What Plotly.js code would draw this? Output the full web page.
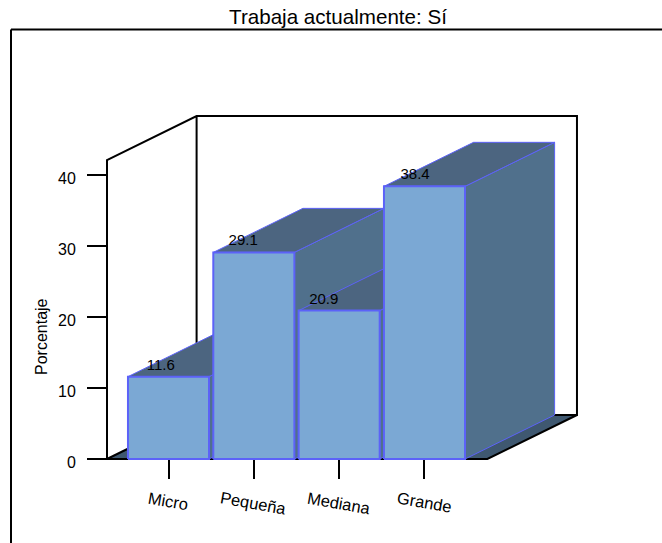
<!DOCTYPE html>
<html><head><meta charset="utf-8">
<script src="https://cdn.plot.ly/plotly-3.0.1.min.js"></script>
<style>html,body{margin:0;padding:0;background:#fff}</style></head>
<body><div id="chart" style="width:662px;height:543px"></div>
<script>
const categories = ["Micro", "Pequeña", "Mediana", "Grande"];
const values = [11.6, 29.1, 20.9, 38.4];
const yTicks = [0, 10, 20, 30, 40];
const titleText = "Trabaja actualmente: Sí";
const yTitle = "Porcentaje";
const labelShift = [-0.09, -0.125, -0.18, -0.11];

const barW = 0.95, depthX = 1.05, depthY = 6.2;
const frontColor = "#7BA8D4", topColor = "#4C6580", sideColor = "#50708C", edge = "#5C62F8";
const xMin = -0.7207, xMax = 4.787, wallTop = 48.3, axisTop = 42.1;

function poly(xs, ys, fill, lw) {
  return {x: xs.concat(xs[0]), y: ys.concat(ys[0]), mode: "lines", fill: "toself", fillcolor: fill,
    line: {color: edge, width: lw}, hoverinfo: "skip", showlegend: false, cliponaxis: false};
}
function blk(xs, ys) {
  return {x: xs, y: ys, mode: "lines", line: {color: "#000", width: 2}, hoverinfo: "skip",
    showlegend: false, cliponaxis: false};
}
const traces = [];
traces.push({x:[xMin, xMin+depthX, xMax, xMax-depthX, xMin], y:[0, depthY, depthY, 0, 0], mode:"lines", fill:"toself",
  fillcolor:"#3F5870", line:{width:0}, hoverinfo:"skip", showlegend:false, cliponaxis:false});
traces.push(blk([xMin, xMin, xMin+depthX, xMax, xMax, xMin+depthX, xMin+depthX], [0, axisTop, wallTop, wallTop, depthY, depthY, wallTop]));
traces.push(blk([xMin, xMax-depthX, xMax], [0, 0, depthY]));
traces.push(blk([xMin, xMin+depthX], [0, depthY]));
values.forEach((v, i) => {
  const a = i - barW/2, b = i + barW/2;
  traces.push(poly([b, b+depthX, b+depthX, b], [0, depthY, v+depthY, v], sideColor, 1));
  traces.push(poly([a, a+depthX, b+depthX, b], [v, v+depthY, v+depthY, v], topColor, 1));
  traces.push(poly([a, b, b, a], [0, 0, v, v], frontColor, 2));
});
traces.push({x: values.map((v,i)=>i+labelShift[i]), y: values.map(v=>v+0.45), mode:"text", text: values.map(v=>v.toFixed(1)),
  textposition:"top center", textfont:{family:"Liberation Sans", size:15, color:"#000"},
  hoverinfo:"skip", showlegend:false, cliponaxis:false});

const W = 485, H = 352;
const px = p => (p-100)/W, py = p => (462-p)/H;
const xLabels = categories.map((c,i)=>({text:c, textangle:10, xref:"x", yref:"paper", x:i-0.005, y:py(486),
  showarrow:false, xanchor:"center", yanchor:"top", font:{size:16.5, color:"#000"}}));
const layout = {
  width: 662, height: 543, margin: {l:100, r:77, t:110, b:81}, paper_bgcolor:"#fff", plot_bgcolor:"rgba(0,0,0,0)",
  font: {family:"Liberation Sans", color:"#000"},
  title: {text: titleText, font:{size:20.6, color:"#000"}, x:338/662, xanchor:"center", y:1-17/543, yanchor:"middle", yref:"container"},
  xaxis: {range:[(100-168.5)/85.33,(585-168.5)/85.33], tickmode:"array", tickvals:categories.map((c,i)=>i), showticklabels:false, ticks:"outside",
    ticklen:19, tickwidth:1.5, tickcolor:"#000", showgrid:false, zeroline:false, showline:false, fixedrange:true,
    anchor:"free", position:py(459)},
  yaxis: {range:[-3/7.1,(459-110)/7.1], tickmode:"array", tickvals:yTicks, ticks:"outside", ticklen:20, tickwidth:1.5, tickcolor:"#000",
    tickfont:{size:16}, ticklabelstandoff:8, ticklabelshift:3, showgrid:false, zeroline:false, showline:false, fixedrange:true,
    anchor:"free", position:px(107)},
  annotations: xLabels.concat([{text:yTitle, textangle:-90, xref:"paper", yref:"paper", x:px(41), y:py(337), showarrow:false,
    xanchor:"center", yanchor:"middle", font:{size:16, color:"#000"}}]),
  shapes: [
    {type:"line", xref:"paper", yref:"paper", x0:px(11), x1:px(11), y0:py(543), y1:py(29.5), line:{color:"#000", width:2}},
    {type:"line", xref:"paper", yref:"paper", x0:px(11), x1:px(662), y0:py(29.5), y1:py(29.5), line:{color:"#000", width:2}}
  ]
};
Plotly.newPlot("chart", traces, layout, {displayModeBar:false});
</script></body></html>
